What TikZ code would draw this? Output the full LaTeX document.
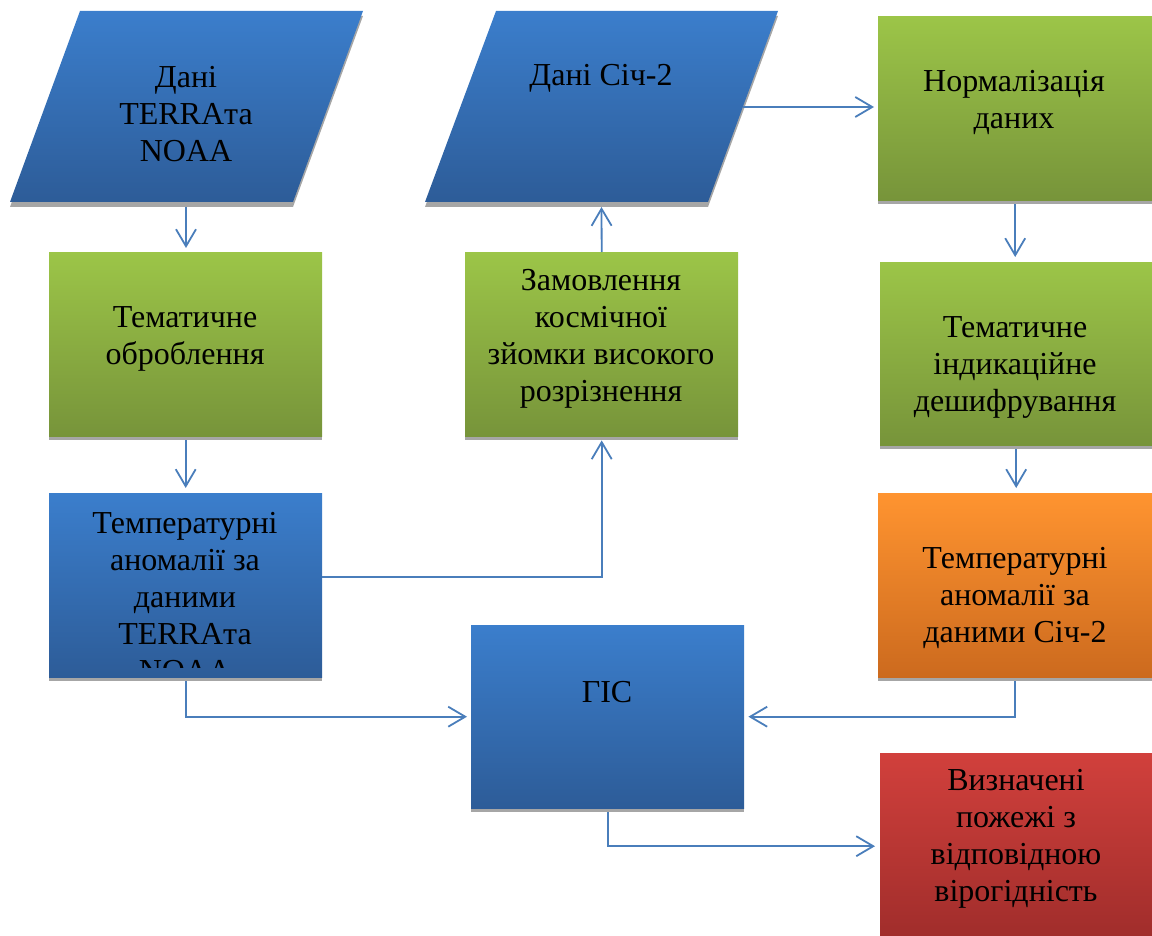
\documentclass[tikz,border=0pt]{standalone}
\usepackage{fontspec}
\setmainfont{Liberation Serif}
\usetikzlibrary{shadows,arrows.meta}
\definecolor{bluetop}{RGB}{59,126,204}
\definecolor{bluebot}{RGB}{45,92,152}
\definecolor{greentop}{RGB}{156,197,72}
\definecolor{greenbot}{RGB}{119,148,58}
\definecolor{orangetop}{RGB}{255,148,48}
\definecolor{orangebot}{RGB}{204,106,30}
\definecolor{redtop}{RGB}{209,64,60}
\definecolor{redbot}{RGB}{160,45,43}
\definecolor{shadowgray}{RGB}{166,166,166}
\definecolor{linkblue}{RGB}{74,126,187}
\tikzset{
  boxbase/.style={draw=none, inner sep=0pt, anchor=north west,
    drop shadow={shadow xshift=0pt, shadow yshift=-4pt, opacity=1, fill=shadowgray}},
  bluebox/.style={boxbase, rectangle, top color=bluetop, bottom color=bluebot},
  greenbox/.style={boxbase, rectangle, top color=greentop, bottom color=greenbot},
  orangebox/.style={boxbase, rectangle, top color=orangetop, bottom color=orangebot},
  redbox/.style={boxbase, rectangle, top color=redtop, bottom color=redbot},
  datashade/.style={top color=bluetop, bottom color=bluebot, draw=none},
  datashadow/.style={fill=shadowgray, draw=none},
  lbl/.style={align=center, inner sep=0pt, font=\fontsize{32}{37}\selectfont},
  link/.style={draw=linkblue, line width=1.8pt, -{Straight Barb[length=17pt,width=20pt]}}
}
\begin{document}
\begin{tikzpicture}[x=1pt,y=-1pt]
\useasboundingbox (0,0) rectangle (1152,936);
% data parallelograms
\fill[datashadow] (80,16) -- (363,16) -- (293,207) -- (10,207) -- cycle;
\shade[datashade] (80,11) -- (363,11) -- (293,202) -- (10,202) -- cycle;
\fill[datashadow] (496,16) -- (778,16) -- (708,207) -- (425,207) -- cycle;
\shade[datashade] (496,11) -- (778,11) -- (708,202) -- (425,202) -- cycle;
\coordinate (p1s) at (186,207);
\coordinate (p2s) at (601.5,207);
\coordinate (p2e) at (743,107);
% boxes
\node[greenbox, minimum width=274pt, minimum height=184pt] (norm) at (878,16) {};
\node[greenbox, minimum width=273pt, minimum height=184pt] (tem1) at (49,252) {};
\node[greenbox, minimum width=273pt, minimum height=184pt] (zam) at (465,252) {};
\node[greenbox, minimum width=272pt, minimum height=183pt] (tem2) at (880,262) {};
\node[bluebox, minimum width=273pt, minimum height=184pt] (blue) at (49,493) {};
\node[orangebox, minimum width=274pt, minimum height=184pt] (orng) at (878,493) {};
\node[bluebox, minimum width=273pt, minimum height=183pt] (gis) at (471,625) {};
\node[redbox, minimum width=272pt, minimum height=186pt] (red) at (880,753) {};
% texts
\node[lbl] (tp1) at (186,114) {Дані\\TERRAта\\NOAA};
\node[lbl] (tp2) at (601,78) {Дані Січ-2};
\node[lbl] (tnorm) at (1014,103) {Нормалізація\\даних};
\node[lbl] (ttem1) at (185,339) {Тематичне\\оброблення};
\node[lbl] (tzam) at (601,339) {Замовлення\\космічної\\зйомки високого\\розрізнення};
\node[lbl] (ttem2) at (1015,367) {Тематичне\\індикаційне\\дешифрування};
\begin{scope}
\clip (49,493) rectangle (322,667);
\node[lbl] (tblue) at (185,597) {Температурні\\аномалії за\\даними\\TERRAта\\NOAA};
\end{scope}
\node[lbl] (torng) at (1015,598) {Температурні\\аномалії за\\даними Січ-2};
\node[lbl] (tgis) at (607,692) {ГІС};
\node[lbl] (tred) at (1016,839) {Визначені\\пожежі з\\відповідною\\вірогідність};
% connectors
\draw[link, shorten >=4pt] (p1s) -- (p1s |- tem1.north);
\draw[link, shorten <=4pt, shorten >=5pt] (tem1.south) -- (blue.north);
\draw[link, shorten >=4pt] ([yshift=8pt]blue.east) -| (zam.south);
\draw[link] (zam.north) -- (p2s);
\draw[link, shorten >=4pt] (p2e) -- (p2e -| norm.west);
\draw[link, shorten <=4pt, shorten >=5pt] (norm.south) -- (norm.south |- tem2.north);
\draw[link, shorten <=4pt, shorten >=5pt] (tem2.south) -- (tem2.south |- orng.north);
\draw[link, shorten <=4pt, shorten >=4pt] (blue.south) |- (gis.west);
\draw[link, shorten <=4pt, shorten >=4pt] (orng.south) |- (gis.east);
\draw[link, shorten <=4pt, shorten >=5pt] (gis.south) |- (red.west);
\end{tikzpicture}
\end{document}
